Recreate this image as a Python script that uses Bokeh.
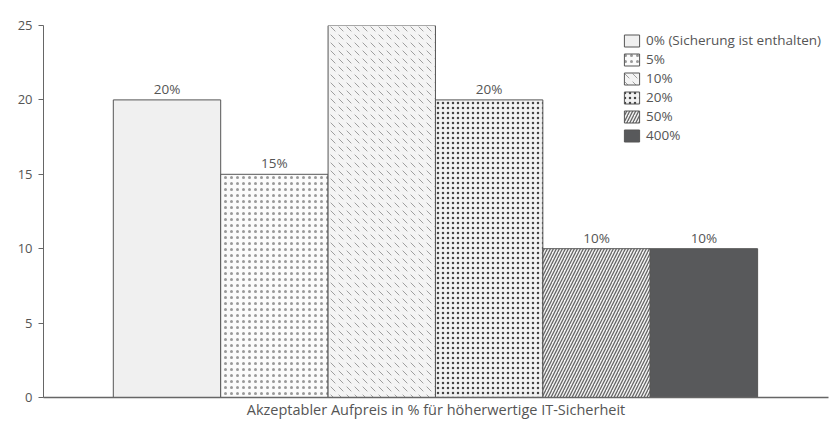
from bokeh.plotting import figure
from bokeh.models import ColumnDataSource, Range1d, FixedTicker, Legend, LegendItem
from bokeh.embed import file_html
from bokeh.resources import INLINE
from bokeh.core.properties import value

# data
categories = ["0% (Sicherung ist enthalten)", "5%", "10%", "20%", "50%", "400%"]
shares = [20, 15, 25, 20, 10, 10]
bar_labels = ["20%", "15%", "25%", "20%", "10%", "10%"]
x_title = "Akzeptabler Aufpreis in % für höherwertige IT-Sicherheit"

FONT = "Open Sans"
GREY = "#58595b"
TXT = "#555555"

fills = ["#f0f0f0", "#fbfbfb", "#f4f4f4", "#f2f2f2", "#f4f4f4", GREY]
hatches = [None, "dot", "left_diagonal_dash", "dot", "right_diagonal_line", None]
hscales = [6, 6, 8, 5, 6, 6]
hweights = [1, 0.4, 0.8, 1.8, 1.3, 1]
hcolors = [None, "#999999", "#888888", "#444444", "#666666", None]

p = figure(width=829, height=423, output_backend="svg", toolbar_location=None,
           x_range=Range1d(-0.15, 7.16), y_range=Range1d(0, 25),
           min_border_left=43, min_border_right=1, min_border_top=25, min_border_bottom=26)
p.outline_line_color = None
p.grid.visible = False
p.background_fill_color = "white"

items = []
for i, (c, v) in enumerate(zip(categories, shares)):
    src = ColumnDataSource(dict(x=[i + 1], top=[v]))
    kw = {}
    if hatches[i]:
        kw = dict(hatch_pattern=hatches[i], hatch_scale=hscales[i],
                  hatch_weight=hweights[i], hatch_color=hcolors[i])
    r = p.vbar(x="x", top="top", width=1, bottom=0, source=src,
               fill_color=fills[i], line_color="#555555", line_width=1, **kw)
    items.append(LegendItem(label=c, renderers=[r]))

lsrc = ColumnDataSource(dict(x=list(range(1, 7)), y=shares, t=bar_labels))
p.text(x="x", y="y", text="t", source=lsrc, text_align="center", text_baseline="bottom",
       y_offset=-2, text_font=value(FONT), text_font_size="13.5px", text_color=TXT)

legend = Legend(items=items, location=(579, 253), padding=0, margin=0, spacing=1,
                glyph_width=19, glyph_height=15, label_height=15, label_standoff=5,
                label_text_font=FONT, label_text_font_size="13.5px", label_text_color=TXT,
                border_line_color=None, background_fill_alpha=0)
p.add_layout(legend)

ya = p.yaxis[0]
ya.ticker = FixedTicker(ticks=[0, 5, 10, 15, 20, 25])
ya.minor_tick_line_color = None
ya.major_tick_in = 0
ya.major_tick_out = 5
ya.axis_line_color = "#666666"
ya.major_tick_line_color = "#666666"
ya.major_label_text_font = FONT
ya.major_label_text_font_size = "13px"
ya.major_label_text_color = TXT
ya.major_label_standoff = 6

xa = p.xaxis[0]
xa.ticker = FixedTicker(ticks=[])
xa.minor_tick_line_color = None
xa.major_tick_line_color = None
xa.axis_line_color = "#666666"
xa.axis_line_width = 1.5
xa.axis_label = x_title
xa.axis_label_text_font = FONT
xa.axis_label_text_font_size = "14.5px"
xa.axis_label_text_font_style = "normal"
xa.axis_label_text_color = TXT
xa.axis_label_standoff = 2
xa.major_label_text_font_size = "0px"

open("out.html", "w").write(file_html(p, INLINE))
